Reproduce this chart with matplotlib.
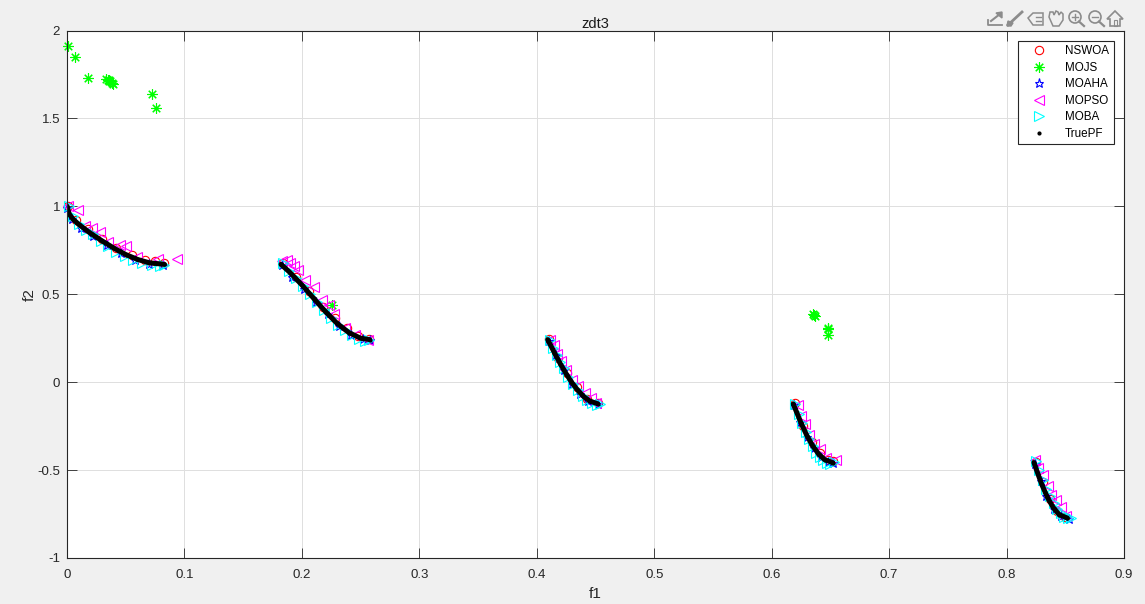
#!/usr/bin/env python3
"""
zdt3 front comparison, five optimisers against the true front
"""
import numpy as np
import matplotlib
matplotlib.use('Agg')
import matplotlib.pyplot as plt
from matplotlib.patches import Circle, Polygon, Rectangle

plt.rcParams['font.family'] = ['Liberation Sans', 'DejaVu Sans']

nan = np.nan

# true front, nan splits the five pieces
pf_f1 = [0, .002, .005, .01, .02, .03, .04, .05, .06, .07, .083, nan,
         .1822, .19, .20, .21, .22, .23, .24, .25, .2577, nan,
         .4093, .415, .42, .425, .43, .435, .44, .445, .4519, nan,
         .6184, .625, .63, .635, .64, .645, .6522, nan,
         .8233, .8266, .83, .835, .84, .845, .8518]
pf_f2 = [1, .955, .928, .897, .847, .803, .762, .726, .698, .679, .670, nan,
         .670, .623, .553, .477, .402, .334, .282, .25, .242, nan,
         .242, .168, .105, .048, -.004, -.047, -.082, -.107, -.123, nan,
         -.124, -.232, -.304, -.363, -.409, -.44, -.459, nan,
         -.457, -.52, -.582, -.658, -.716, -.754, -.773]

moba_f1 = [.002, .005, .010, .016, .022, .029, .035, .042, .049, .056, .064, .072, .079, .083,
           .184, .189, .195, .201, .207, .213, .219, .225, .231, .237, .243, .249, .254, .257,
           .411, .414, .417, .42, .423, .427, .431, .435, .439, .443, .447, .451, .454,
           .62, .623, .626, .629, .632, .635, .638, .641, .644, .647, .65, .653,
           .825, .828, .831, .834, .837, .84, .843, .846, .849, .852, .855]
moba_f2 = [1.0, .945, .90, .865, .84, .805, .775, .74, .715, .695, .68, .665, .66, .665,
           .675, .63, .59, .545, .50, .455, .41, .365, .325, .295, .27, .245, .235, .24,
           .24, .195, .155, .115, .08, .03, -.01, -.045, -.08, -.10, -.12, -.13, -.125,
           -.125, -.18, -.235, -.285, -.325, -.365, -.40, -.425, -.445, -.46, -.465, -.455,
           -.45, -.50, -.555, -.605, -.65, -.69, -.72, -.745, -.765, -.775, -.775]

mopso_f1 = [.001, .0094, .015, .021, .028, .035, .045, .05, .06, .0775, .0937,
            .183, .187, .19, .193, .197, .203, .21, .217, .223, .227, .237, .245, .256,
            .411, .415, .417, .421, .425, .43, .435, .441, .446, .45,
            .622, .625, .628, .632, .636, .641, .646, .655,
            .824, .827, .831, .835, .838, .842, .846, .851]
mopso_f2 = [1.0, .98, .89, .876, .855, .80, .78, .775, .71, .70, .70,
            .69, .695, .675, .66, .64, .58, .54, .47, .44, .39, .31, .27, .24,
            .24, .21, .16, .12, .07, .01, -.02, -.06, -.09, -.12,
            -.13, -.19, -.24, -.30, -.35, -.38, -.43, -.44,
            -.44, -.49, -.53, -.59, -.64, -.67, -.71, -.76]

moaha_f1 = [0, .004, .012, .022, .034, .046, .058, .07, .082,
            .183, .192, .202, .212, .222, .232, .242, .252, .258,
            .41, .416, .423, .43, .437, .444, .452,
            .619, .624, .63, .636, .642, .648, .652,
            .824, .829, .834, .84, .846, .853]
moaha_f2 = [.99, .93, .875, .83, .78, .735, .695, .67, .665,
            .665, .60, .53, .455, .385, .32, .27, .245, .24,
            .235, .155, .07, -.01, -.065, -.105, -.125,
            -.13, -.225, -.31, -.375, -.425, -.455, -.46,
            -.465, -.56, -.645, -.72, -.76, -.78]

nswoa_f1 = [.001, .008, .018, .03, .042, .055, .066, .075, .083,
            .184, .195, .206, .218, .228, .238, .248, .257,
            .41, .418, .426, .434, .443, .452,
            .62, .627, .634, .641, .648, .652,
            .825, .831, .837, .843, .85]
nswoa_f2 = [1.0, .925, .87, .815, .765, .725, .695, .69, .68,
            .675, .60, .52, .43, .365, .31, .265, .245,
            .245, .14, .05, -.03, -.095, -.12,
            -.12, -.25, -.34, -.40, -.44, -.45,
            -.455, -.57, -.665, -.735, -.765]

mojs_f1 = [.0005, .0068, .018, .033, .035, .0355, .036, .037, .038, .0395, .0725, .076,
           .2257, .635, .636, .637, .648, .648, .648]
mojs_f2 = [1.91, 1.85, 1.73, 1.725, 1.72, 1.72, 1.71, 1.71, 1.70, 1.695, 1.64, 1.56,
           .44, .385, .38, .375, .31, .30, .27]

xticks = [0, .1, .2, .3, .4, .5, .6, .7, .8, .9]
xlabels = ['0', '0.1', '0.2', '0.3', '0.4', '0.5', '0.6', '0.7', '0.8', '0.9']
yticks = [-1, -.5, 0, .5, 1, 1.5, 2]
ylabels = ['-1', '-0.5', '0', '0.5', '1', '1.5', '2']

W, H = 1145, 604
L, R, T, B = 67, 1124, 30.5, 558

fig = plt.figure(figsize=(W / 100, H / 100), dpi=100, facecolor='#f0f0f0')
ax = fig.add_axes([L / W, 1 - B / H, (R - L) / W, (B - T) / H])

kw = dict(linestyle='none', markerfacecolor='none', markeredgewidth=.8, clip_on=False)
ax.plot(nswoa_f1, nswoa_f2, 'o', color='#ff0000', ms=6, label='NSWOA', **kw)
ax.plot(mojs_f1, mojs_f2, marker=(8, 2, 0), color='#00ff00', ms=7.5, label='MOJS', **kw)
ax.plot(moaha_f1, moaha_f2, '*', color='#0000ff', ms=6.5, label='MOAHA', **kw)
ax.plot(mopso_f1, mopso_f2, '<', color='#ff00ff', ms=6.5, label='MOPSO', **kw)
ax.plot(moba_f1, moba_f2, '>', color='#00ffff', ms=6.5, label='MOBA', **kw)
# the dots sit so close in the original that they read as a thick line
ax.plot(pf_f1, pf_f2, '-', color='black', lw=3.6, solid_capstyle='round')
ax.plot(pf_f1, pf_f2, '.', color='black', ms=4, label='TruePF')

ax.set_xlim(0, .9)
ax.set_ylim(-1, 2)
ax.set_xticks(xticks)
ax.set_xticklabels(xlabels)
ax.set_yticks(yticks)
ax.set_yticklabels(ylabels)
ax.tick_params(direction='in', length=7, width=.6, top=True, right=True,
               labelsize=9.5, colors='#262626')
ax.tick_params(axis='x', pad=8)
ax.tick_params(axis='y', pad=5)
ax.grid(True, color='#dfdfdf', lw=.7)
ax.set_axisbelow(True)
for s in ax.spines.values():
    s.set_linewidth(.8)
    s.set_color('#262626')
ax.set_title('zdt3', fontsize=10.5, color='#1a1a1a', pad=2)
ax.set_xlabel('f1', fontsize=11, color='#262626', labelpad=4)
ax.set_ylabel('f2', fontsize=11, color='#262626', labelpad=0)

leg = ax.legend(loc='upper left', bbox_to_anchor=(1017.5 / W, 1 - 41 / H),
                bbox_transform=fig.transFigure, fontsize=8.4, numpoints=1,
                fancybox=False, framealpha=1, edgecolor='#262626', borderaxespad=0,
                labelspacing=.38, handlelength=2.95, handletextpad=.75, borderpad=.38)
leg.get_frame().set_linewidth(.8)

# toolbar icons, top right, drawn in pixel coords
tb = fig.add_axes([0, 0, 1, 1], facecolor='none')
tb.set_xlim(0, W)
tb.set_ylim(H, 0)
tb.axis('off')
grey = '#8c8c8c'
tb.add_patch(Circle((1075, 17), 6, fill=False, ec=grey, lw=1.2))
tb.plot([1079, 1084], [21.5, 26], color=grey, lw=1.6)
tb.plot([1072, 1078], [17, 17], color=grey, lw=1)
tb.plot([1075, 1075], [14, 20], color=grey, lw=1)
tb.add_patch(Circle((1095, 17), 6, fill=False, ec=grey, lw=1.2))
tb.plot([1099, 1104], [21.5, 26], color=grey, lw=1.6)
tb.plot([1092, 1098], [17, 17], color=grey, lw=1)
tb.add_patch(Polygon([(1107, 19), (1115, 11), (1123, 19), (1120, 19), (1120, 26),
                      (1110, 26), (1110, 19)], fill=False, ec=grey, lw=1.2))
tb.add_patch(Rectangle((1113.5, 20), 3, 6, fill=False, ec=grey, lw=.8))
# hand
tb.add_patch(Polygon([(1049, 17), (1050, 12), (1053, 12), (1054, 15), (1056, 11), (1058, 12),
                      (1059, 15), (1061, 12), (1063, 14), (1063, 20), (1059, 26), (1053, 26)],
                     fill=False, ec=grey, lw=1.1))
# legend toggle
tb.add_patch(Polygon([(1028, 18), (1033, 13), (1043, 13), (1043, 25), (1033, 25)],
                     fill=False, ec=grey, lw=1.1))
tb.plot([1036, 1041], [17, 17], color=grey, lw=1)
tb.plot([1036, 1041], [21, 21], color=grey, lw=1)
# brush
tb.plot([1008, 1022], [25, 12], color=grey, lw=2)
tb.add_patch(Polygon([(1007, 26), (1008, 21), (1013, 23), (1011, 26)], color=grey))
# export
tb.plot([988, 988, 1002], [20, 25, 25], color=grey, lw=1.3)
tb.plot([991, 1000], [21, 14], color=grey, lw=1.5)
tb.add_patch(Polygon([(996, 13), (1002, 12), (1002, 18)], color=grey))

fig.savefig('out.png', dpi=100, facecolor=fig.get_facecolor())
